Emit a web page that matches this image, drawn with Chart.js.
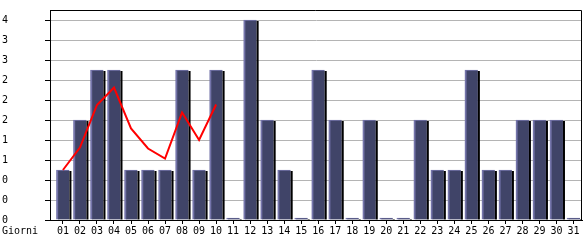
<!DOCTYPE html>
<html>
<head>
<meta charset="utf-8">
<script src="https://cdn.jsdelivr.net/npm/chart.js@4/dist/chart.umd.min.js"></script>
<style>
  body { margin: 0; background: #fff; }
  #box { width: 585px; height: 240px; }
</style>
</head>
<body>
<div id="box"><canvas id="chart"></canvas></div>
<script>
// giorni del mese (etichette asse x)
const dayLabels = ['01','02','03','04','05','06','07','08','09','10',
                   '11','12','13','14','15','16','17','18','19','20',
                   '21','22','23','24','25','26','27','28','29','30','31'];
// valori giornalieri (barre)
const dailyValues = [1,2,3,3,1,1,1,3,1,3,0,4,2,1,0,3,2,0,2,0,0,2,1,1,3,1,1,2,2,2,0];
// linea rossa (primi 10 giorni)
const trendValues = [1.0,1.45,2.3,2.65,1.83,1.43,1.23,2.15,1.6,2.31];

const barColor = '#404468';
const edgeColor = '#7474aa';
const gridColor = '#b4b4b4';
const font = { family: 'DejaVu Sans Mono', size: 10 };

const barData = dayLabels.map((d, i) => ({ x: Number(d), y: dailyValues[i] }));
const lineData = trendValues.map((v, i) => ({ x: Number(dayLabels[i]), y: v }));

// ombra nera a destra delle barre
const shadowPlugin = {
    id: 'barShadow',
    afterDatasetDraw(chart, args) {
        if (args.index !== 0) return;
        const ctx = chart.ctx;
        ctx.save();
        ctx.fillStyle = '#000';
        args.meta.data.forEach(el => {
            const p = el.getProps(['x', 'y', 'base', 'width'], true);
            ctx.fillRect(p.x + p.width / 2, p.y + 1, 2, p.base - p.y - 1);
        });
        ctx.restore();
    }
};

// cornice superiore/destra e scritta "Giorni"
const framePlugin = {
    id: 'frame',
    afterDraw(chart) {
        const ctx = chart.ctx;
        const a = chart.chartArea;
        ctx.save();
        ctx.strokeStyle = '#000';
        ctx.lineWidth = 1;
        ctx.beginPath();
        ctx.moveTo(a.left, a.top + 0.5);
        ctx.lineTo(a.right - 0.5, a.top + 0.5);
        ctx.lineTo(a.right - 0.5, a.bottom);
        ctx.stroke();
        ctx.fillStyle = '#000';
        ctx.font = '10px "DejaVu Sans Mono"';
        ctx.textBaseline = 'alphabetic';
        ctx.fillText('Giorni', 2, 234);
        ctx.restore();
    }
};

new Chart(document.getElementById('chart'), {
    data: {
        datasets: [
            {
                type: 'bar',
                data: barData,
                backgroundColor: barColor,
                borderColor: edgeColor,
                borderWidth: { left: 2, top: 1, right: 0, bottom: 0 },
                borderSkipped: false,
                barThickness: 13,
                minBarLength: 2,
                order: 1
            },
            {
                type: 'line',
                data: lineData,
                borderColor: '#ff0000',
                borderWidth: 2,
                pointRadius: 0,
                tension: 0,
                fill: false,
                order: 0
            }
        ]
    },
    options: {
        responsive: true,
        maintainAspectRatio: false,
        animation: false,
        layout: { padding: { left: 2, top: 10, right: 3, bottom: 0 } },
        plugins: { legend: { display: false }, tooltip: { enabled: false } },
        scales: {
            x: {
                type: 'linear',
                min: 0.24,
                max: 31.5,
                offset: false,
                afterFit(scale) { scale.height = 20; },
                grid: { offset: false, drawOnChartArea: false, drawTicks: true, tickLength: 4, tickColor: '#000' },
                border: { display: true, color: '#000' },
                ticks: {
                    stepSize: 1,
                    includeBounds: false,
                    autoSkip: false,
                    maxTicksLimit: 40,
                    maxRotation: 0,
                    padding: 1,
                    color: '#000',
                    font: font,
                    callback: v => dayLabels[Math.round(v) - 1]
                }
            },
            y: {
                min: 0,
                max: 4.2,
                afterFit(scale) { scale.width = 48; },
                grid: { color: gridColor, tickLength: 5, tickColor: '#000' },
                border: { display: true, color: '#000' },
                ticks: {
                    stepSize: 0.4,
                    includeBounds: false,
                    crossAlign: 'far',
                    color: '#000',
                    font: font,
                    callback: v => Math.floor(v + 1e-9)
                }
            }
        }
    },
    plugins: [shadowPlugin, framePlugin]
});
</script>
</body>
</html>
